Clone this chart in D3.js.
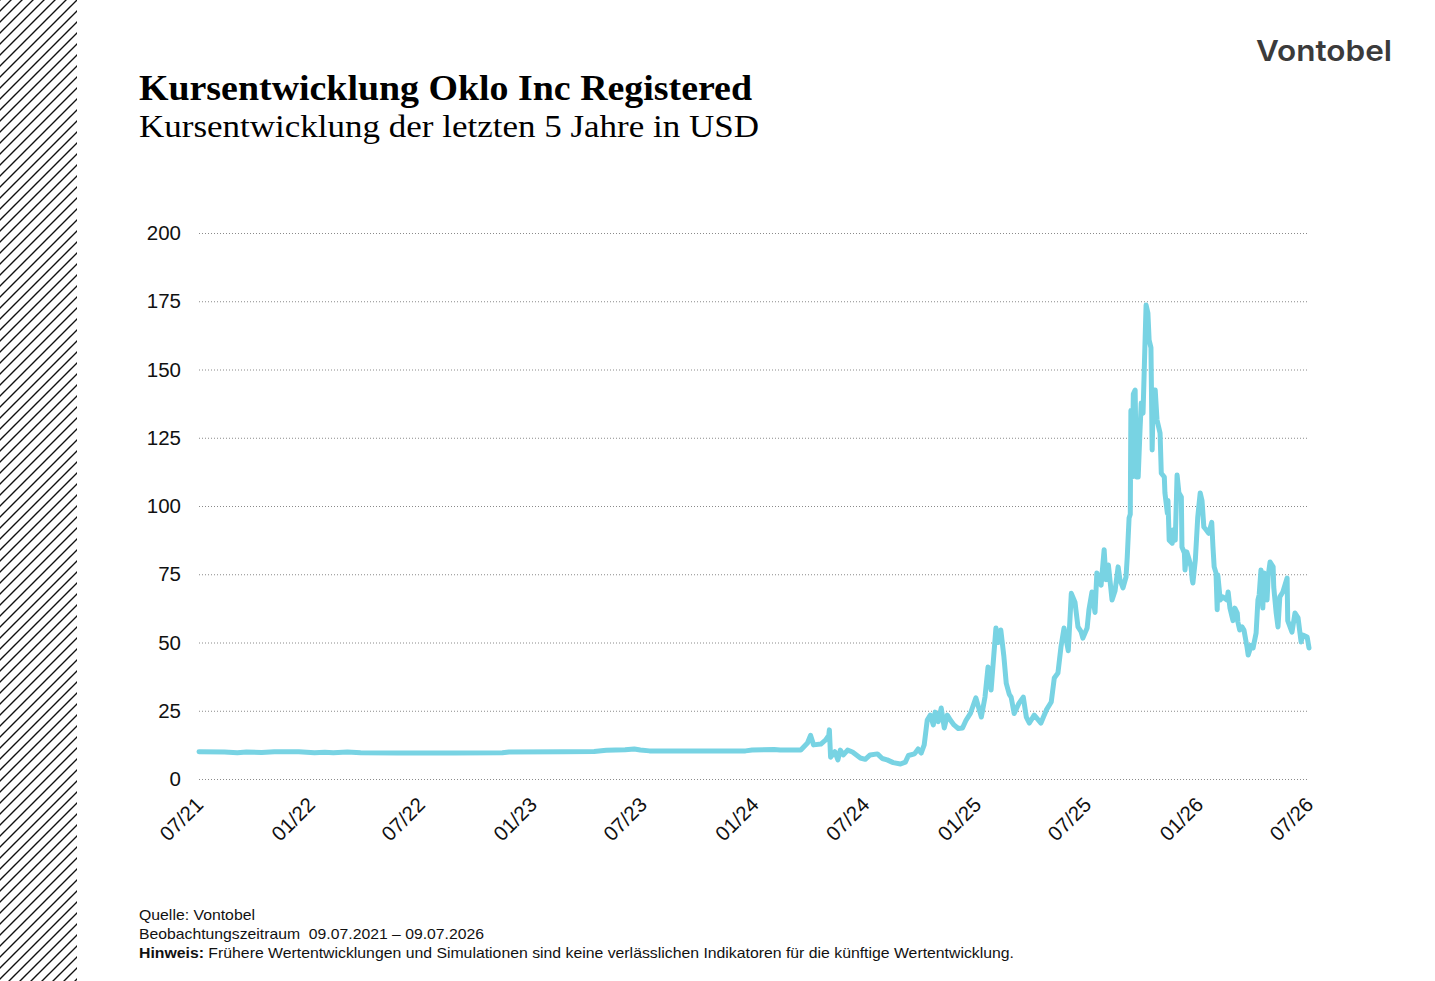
<!DOCTYPE html>
<html>
<head>
<meta charset="utf-8">
<script src="https://cdn.jsdelivr.net/npm/d3@7"></script>
<style>
  body { margin: 0; background: #ffffff; }
  svg { display: block; }
</style>
</head>
<body>
<script>
// chart texts
var title = "Kursentwicklung Oklo Inc Registered";
var subtitle = "Kursentwicklung der letzten 5 Jahre in USD";
var logoText = "Vontobel";
var footSource = "Quelle: Vontobel";
var footPeriod = "Beobachtungszeitraum  09.07.2021 \u2013 09.07.2026";
var footNoteBold = "Hinweis:";
var footNote = " Frühere Wertentwicklungen und Simulationen sind keine verlässlichen Indikatoren für die künftige Wertentwicklung.";

// axis ticks
var yTicks = [0, 25, 50, 75, 100, 125, 150, 175, 200];
var xTickDates = ["2021-07-09", "2022-01-09", "2022-07-09", "2023-01-09", "2023-07-09", "2024-01-09",
                  "2024-07-09", "2025-01-09", "2025-07-09", "2026-01-09", "2026-07-09"];
var xTickLabels = ["07/21", "01/22", "07/22", "01/23", "07/23", "01/24", "07/24", "01/25", "07/25", "01/26", "07/26"];

// price series
var dates = [
  "2021-07-09","2021-08-20","2021-09-10","2021-09-25","2021-10-20","2021-11-10","2021-12-20","2022-01-15",
  "2022-02-01","2022-02-15","2022-03-10","2022-04-01","2022-06-01","2022-09-01","2022-11-20","2022-12-01",
  "2023-03-01","2023-04-20","2023-05-10","2023-06-10","2023-06-25","2023-07-05","2023-07-20","2023-10-01",
  "2023-12-25","2024-01-05","2024-02-10","2024-02-20","2024-03-25",
  "2024-04-05","2024-04-10","2024-04-15","2024-04-27","2024-05-05","2024-05-10","2024-05-11","2024-05-13",
  "2024-05-20","2024-05-25","2024-05-29","2024-06-03","2024-06-10","2024-06-18","2024-07-01","2024-07-09",
  "2024-07-17","2024-07-29","2024-08-06","2024-08-14","2024-08-24","2024-09-05","2024-09-13","2024-09-18",
  "2024-09-28","2024-10-04","2024-10-09","2024-10-14","2024-10-19","2024-10-24","2024-10-29","2024-11-01",
  "2024-11-06","2024-11-11","2024-11-16","2024-11-21","2024-11-26","2024-12-02","2024-12-09","2024-12-16",
  "2024-12-22","2024-12-29",
  "2025-01-07","2025-01-16","2025-01-22","2025-01-27","2025-02-01","2025-02-09","2025-02-13","2025-02-17",
  "2025-02-22","2025-02-26","2025-03-03","2025-03-06","2025-03-11","2025-03-19","2025-03-26","2025-03-31",
  "2025-04-05","2025-04-13","2025-04-24","2025-05-03","2025-05-11","2025-05-16","2025-05-22","2025-05-27",
  "2025-06-01","2025-06-08","2025-06-13","2025-06-19","2025-06-24","2025-06-29","2025-07-02","2025-07-09",
  "2025-07-12","2025-07-17","2025-07-22","2025-07-25","2025-08-01","2025-08-06","2025-08-09","2025-08-13",
  "2025-08-19","2025-08-24","2025-08-29","2025-09-01","2025-09-06","2025-09-11","2025-09-13","2025-09-16",
  "2025-09-18","2025-09-19","2025-09-21","2025-09-23","2025-09-26","2025-09-28","2025-09-29","2025-10-01",
  "2025-10-04","2025-10-06","2025-10-09","2025-10-12","2025-10-14","2025-10-17","2025-10-19","2025-10-22",
  "2025-10-24","2025-10-26","2025-10-29","2025-11-01","2025-11-06","2025-11-08","2025-11-13","2025-11-14",
  "2025-11-18","2025-11-19","2025-11-21","2025-11-26","2025-11-27","2025-12-01","2025-12-04","2025-12-07",
  "2025-12-11","2025-12-12","2025-12-16","2025-12-17","2025-12-20","2025-12-24","2025-12-27","2025-12-29",
  "2025-12-30","2026-01-03","2026-01-07","2026-01-11","2026-01-14","2026-01-17","2026-01-21","2026-01-25",
  "2026-01-30","2026-02-01","2026-02-03","2026-02-06","2026-02-08","2026-02-09","2026-02-13","2026-02-17",
  "2026-02-24","2026-02-26","2026-03-01","2026-03-06","2026-03-09","2026-03-13","2026-03-14","2026-03-17",
  "2026-03-21","2026-03-24","2026-03-29","2026-03-31","2026-04-05","2026-04-08","2026-04-13","2026-04-16",
  "2026-04-18","2026-04-21","2026-04-24","2026-04-26","2026-05-01","2026-05-03","2026-05-06","2026-05-11",
  "2026-05-12","2026-05-16","2026-05-19","2026-05-22","2026-05-27","2026-06-03","2026-06-04","2026-06-11",
  "2026-06-16","2026-06-21","2026-06-26","2026-06-29","2026-07-06","2026-07-09"
];
var prices = [
  10.0, 9.9, 9.6, 9.9, 9.7, 10.0, 10.0, 9.6,
  9.8, 9.6, 9.9, 9.6, 9.5, 9.5, 9.6, 9.9,
  10.0, 10.1, 10.5, 10.7, 11.0, 10.6, 10.3, 10.3,
  10.3, 10.6, 10.8, 10.6, 10.6,
  13.2, 16.0, 12.5, 12.8, 14.3, 16.0, 18.0, 8.0,
  10.0, 7.0, 10.6, 8.8, 10.6, 9.9, 7.7, 7.2,
  8.8, 9.2, 7.5, 7.0, 6.0, 5.5, 6.2, 8.6,
  9.2, 11.0, 9.5, 12.5, 21.6, 23.4, 19.8, 24.5,
  21.0, 26.0, 18.7, 23.4, 21.6, 19.8, 18.5, 18.7,
  21.6, 24.0,
  29.7, 22.7, 30.0, 41.0, 32.6, 55.3, 50.0, 54.6,
  45.0, 35.0, 31.0, 30.0, 24.0, 27.8, 30.0, 22.7,
  20.5, 23.4, 20.5, 25.3, 28.2, 37.0, 38.8, 48.4,
  55.3, 47.0, 68.0, 64.8, 55.7, 54.0, 51.6, 55.3,
  62.0, 68.5, 61.0, 75.5, 71.0, 84.0, 73.0, 78.4,
  65.6, 69.0, 77.7, 73.0, 70.0, 74.0, 81.3, 95.6,
  97.0, 135.0, 110.6, 141.0, 142.5, 110.6, 129.0, 110.6,
  127.8, 137.7, 134.0, 158.0, 173.6, 170.7, 160.8, 158.0,
  120.5, 142.5, 142.5, 131.5, 126.7, 112.0, 110.6, 104.8,
  97.4, 102.0, 87.5, 86.4, 91.2, 87.5, 111.4, 104.8,
  103.3, 85.0, 82.8, 76.6, 83.2, 80.2, 77.7, 72.9,
  71.8, 80.2, 96.0, 104.8, 102.0, 92.3, 91.2, 90.0,
  94.0, 85.0, 77.7, 75.5, 62.0, 74.7, 65.6, 66.7,
  65.6, 68.5, 62.6, 58.0, 62.6, 60.8, 57.5, 54.6,
  55.7, 54.6, 48.4, 45.4, 49.0, 48.0, 53.5, 65.6,
  67.4, 76.6, 62.6, 75.5, 65.6, 74.7, 79.5, 77.7,
  70.3, 60.8, 55.7, 66.7, 68.5, 73.6, 58.0, 53.8,
  60.8, 59.0, 50.2, 52.7, 52.0, 48.0
];

// function that is triggered when page is loaded
window.onload = function() {

  var w = 1435;
  var h = 981;
  var left = 199;
  var right = 1309;
  var top = 233;
  var bottom = 779;

  var sans = "'Liberation Sans', Arial, sans-serif";
  var serif = "'Liberation Serif', 'Times New Roman', serif";

  var parseDate = d3.timeParse("%Y-%m-%d");

  var svg = d3.select("body")
    .append("svg")
    .attr("width", w)
    .attr("height", h);

  // hatched band on the left
  var defs = svg.append("defs");
  var pattern = defs.append("pattern")
    .attr("id", "hatch")
    .attr("patternUnits", "userSpaceOnUse")
    .attr("width", 11)
    .attr("height", 11);
  pattern.append("path")
    .attr("d", "M-2,2 L2,-2 M0,11 L11,0 M9,13 L13,9")
    .attr("stroke", "#111")
    .attr("stroke-width", 1.4);

  svg.append("rect")
    .attr("x", 0)
    .attr("y", 0)
    .attr("width", 77)
    .attr("height", h)
    .attr("fill", "url(#hatch)");

  // logo
  svg.append("text")
    .attr("x", 1392)
    .attr("y", 61)
    .attr("text-anchor", "end")
    .attr("textLength", 136)
    .attr("lengthAdjust", "spacingAndGlyphs")
    .style("font-family", "Inter, 'Open Sans', sans-serif")
    .style("font-weight", 600)
    .style("font-size", "29px")
    .style("fill", "#3b3b3b")
    .text(logoText);

  // titles
  svg.append("text")
    .attr("x", 139)
    .attr("y", 100)
    .attr("textLength", 613)
    .attr("lengthAdjust", "spacingAndGlyphs")
    .style("font-family", serif)
    .style("font-weight", "bold")
    .style("font-size", "35px")
    .style("fill", "#000")
    .text(title);

  svg.append("text")
    .attr("x", 139)
    .attr("y", 137)
    .attr("textLength", 620)
    .attr("lengthAdjust", "spacingAndGlyphs")
    .style("font-family", serif)
    .style("font-size", "32px")
    .style("fill", "#000")
    .text(subtitle);

  // scales
  var x = d3.scaleTime()
    .domain([parseDate(xTickDates[0]), parseDate(xTickDates[xTickDates.length - 1])])
    .range([left, right]);

  var y = d3.scaleLinear()
    .domain([0, 200])
    .range([bottom, top]);

  // y axis with dotted grid lines
  var yAxis = d3.axisLeft(y)
    .tickValues(yTicks)
    .tickSize(-(right - left))
    .tickPadding(18);

  var gy = svg.append("g")
    .attr("transform", "translate(" + left + ",0)")
    .call(yAxis);
  gy.select(".domain").remove();
  gy.selectAll("line")
    .attr("stroke", "#8a8a8a")
    .attr("stroke-width", 1)
    .attr("stroke-dasharray", "1,2");
  gy.selectAll("text")
    .style("font-family", sans)
    .style("font-size", "20.5px")
    .style("fill", "#111");

  // x axis with rotated labels
  var xAxis = d3.axisBottom(x)
    .tickValues(xTickDates.map(parseDate))
    .tickFormat(function(d, i) { return xTickLabels[i]; })
    .tickSize(0);

  var gx = svg.append("g")
    .attr("transform", "translate(0," + bottom + ")")
    .call(xAxis);
  gx.select(".domain").remove();
  gx.selectAll("text")
    .attr("x", 0)
    .attr("y", 0)
    .attr("dy", 0)
    .attr("transform", "translate(5,27) rotate(-45)")
    .style("text-anchor", "end")
    .style("font-family", sans)
    .style("font-size", "20.5px")
    .style("fill", "#111");

  // price line
  var data = dates.map(function(d, i) {
    return { date: parseDate(d), value: prices[i] };
  });

  var line = d3.line()
    .x(function(d) { return x(d.date); })
    .y(function(d) { return y(d.value); });

  svg.append("path")
    .datum(data)
    .attr("d", line)
    .attr("fill", "none")
    .attr("stroke", "#78d3e3")
    .attr("stroke-width", 5)
    .attr("stroke-linejoin", "round")
    .attr("stroke-linecap", "round");

  // footer
  var foot = svg.append("g")
    .style("font-family", sans)
    .style("font-size", "15px")
    .style("fill", "#111");

  foot.append("text")
    .attr("x", 139)
    .attr("y", 920)
    .attr("textLength", 116)
    .attr("lengthAdjust", "spacingAndGlyphs")
    .text(footSource);

  foot.append("text")
    .attr("x", 139)
    .attr("y", 939)
    .attr("textLength", 345)
    .attr("lengthAdjust", "spacingAndGlyphs")
    .style("white-space", "pre")
    .text(footPeriod);

  var note = foot.append("text")
    .attr("x", 139)
    .attr("y", 958)
    .attr("textLength", 875)
    .attr("lengthAdjust", "spacingAndGlyphs")
    .style("white-space", "pre");
  note.append("tspan")
    .style("font-weight", "bold")
    .text(footNoteBold);
  note.append("tspan")
    .text(footNote);
};
</script>
</body>
</html>
